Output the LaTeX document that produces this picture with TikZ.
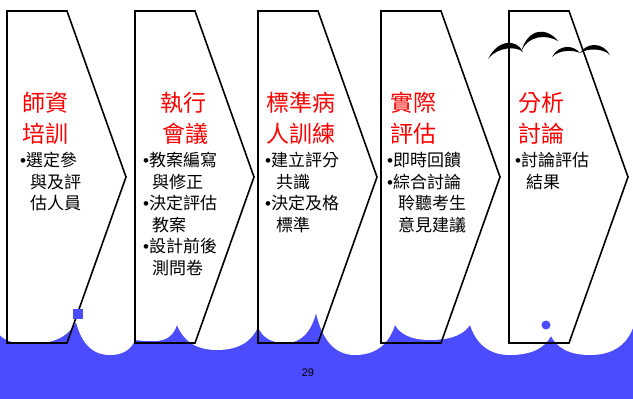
\documentclass[tikz,border=0pt]{standalone}
\usepackage{fontspec}
\setmainfont{Liberation Sans}
\newfontfamily\cjk{Noto Sans CJK TC}
\newfontfamily\latinfont{Liberation Sans}
\definecolor{seablue}{RGB}{76,76,255}
\newcommand\bul{{\latinfont\fontsize{17}{20}\selectfont •}}
\tikzset{
  stagebox/.style={draw=black, line width=1.6pt, line join=miter},
  titletext/.style={anchor=base west, inner sep=0pt, text=red, font=\cjk\fontsize{23}{26}\selectfont},
  bodytext/.style={anchor=base west, inner sep=0pt, text=black, font=\cjk\fontsize{17}{20}\selectfont},
  birdwing/.style={fill=black, draw=none},
}
\begin{document}
\begin{tikzpicture}[x=1pt, y=-1pt]
\useasboundingbox (0,0) rectangle (633,399);
\fill[white] (0,0) rectangle (633,399);

% sea with scalloped white foam along its top
\fill[seablue] (0,300) rectangle (633,399);
\foreach \xa/\ya/\xb/\yb/\xc/\yc in {
  0/335/30/344/76/322,
  76/322/110/355/135/340,
  135/340/155/341/177/325,
  177/325/217/350/258/327,
  258/327/285/343/316/313,
  316/313/355/355/395/325,
  395/325/430/340/470/325,
  470/325/510/355/551/336,
  551/336/590/355/633/328}{
  \pgfmathsetmacro\pa{\xa+0.15*(\xb-\xa)}
  \pgfmathsetmacro\qa{\ya+0.6*(\yb-\ya)}
  \pgfmathsetmacro\pb{\xb-0.55*(\xb-\xa)}
  \pgfmathsetmacro\pc{\xb+0.55*(\xc-\xb)}
  \pgfmathsetmacro\pd{\xc-0.15*(\xc-\xb)}
  \pgfmathsetmacro\qd{\yc+0.6*(\yb-\yc)}
  \fill[white] (\xa,\ya) .. controls (\pa,\qa) and (\pb,\yb) .. (\xb,\yb)
    .. controls (\pc,\yb) and (\pd,\qd) .. (\xc,\yc) -- (\xc,299) -- (\xa,299) -- cycle;
}

% the five stage chevrons
\foreach \x in {7,135,258,381,509}{
  \draw[stagebox] (\x,11) -- (\x+60,11) -- (\x+119,177) -- (\x+60,343) -- (\x,343) -- cycle;
}

% small sea decorations
\fill[seablue] (73,309) rectangle (83,319);
\fill[seablue] (546,325) circle (4.5);

% birds
\fill[birdwing] (488,59) .. controls (498,38.8) and (517,38.8) .. (523,52)
  .. controls (517,46.2) and (498,46.2) .. (488,59) -- cycle;
\fill[birdwing] (521,52) .. controls (528,27.2) and (547,27.2) .. (558,41)
  .. controls (547,34.5) and (528,34.5) .. (521,52) -- cycle;
\fill[birdwing] (552,57) .. controls (559,44.3) and (573,44.3) .. (580,53)
  .. controls (573,49.7) and (559,49.7) .. (552,57) -- cycle;
\fill[birdwing] (580,53) .. controls (587,42) and (603,42) .. (610,55)
  .. controls (603,48) and (587,48) .. (580,53) -- cycle;

% stage 1
\node[titletext] (t1a) at (22,111.7) {師資};
\node[titletext] (t1b) at (22,142.7) {培訓};
\node[bodytext] (b1a) at (20,166.5) {\bul 選定參};
\node[bodytext] (b1b) at (30,188) {與及評};
\node[bodytext] (b1c) at (30,209.5) {估人員};

% stage 2
\node[titletext] (t2a) at (160,111.7) {執行};
\node[titletext] (t2b) at (162,142.7) {會議};
\node[bodytext] (b2a) at (143,166.5) {\bul 教案編寫};
\node[bodytext] (b2b) at (152,188) {與修正};
\node[bodytext] (b2c) at (143,209.5) {\bul 決定評估};
\node[bodytext] (b2d) at (152,231) {教案};
\node[bodytext] (b2e) at (143,252.5) {\bul 設計前後};
\node[bodytext] (b2f) at (152,274) {測問卷};

% stage 3
\node[titletext] (t3a) at (266,111.7) {標準病};
\node[titletext] (t3b) at (266,142.7) {人訓練};
\node[bodytext] (b3a) at (265,166.5) {\bul 建立評分};
\node[bodytext] (b3b) at (276,188) {共識};
\node[bodytext] (b3c) at (265,209.5) {\bul 決定及格};
\node[bodytext] (b3d) at (276,231) {標準};

% stage 4
\node[titletext] (t4a) at (390,111.7) {實際};
\node[titletext] (t4b) at (390,142.7) {評估};
\node[bodytext] (b4a) at (387,166.5) {\bul 即時回饋};
\node[bodytext] (b4b) at (387,188) {\bul 綜合討論};
\node[bodytext] (b4c) at (398,209.5) {聆聽考生};
\node[bodytext] (b4d) at (398,231) {意見建議};

% stage 5
\node[titletext] (t5a) at (518,111.7) {分析};
\node[titletext] (t5b) at (518,142.7) {討論};
\node[bodytext] (b5a) at (515,166.5) {\bul 討論評估};
\node[bodytext] (b5b) at (526,188) {結果};

% page number
\node[inner sep=0pt, font=\latinfont\fontsize{11}{13}\selectfont] (pagenum) at (308,372.5) {29};
\end{tikzpicture}
\end{document}
